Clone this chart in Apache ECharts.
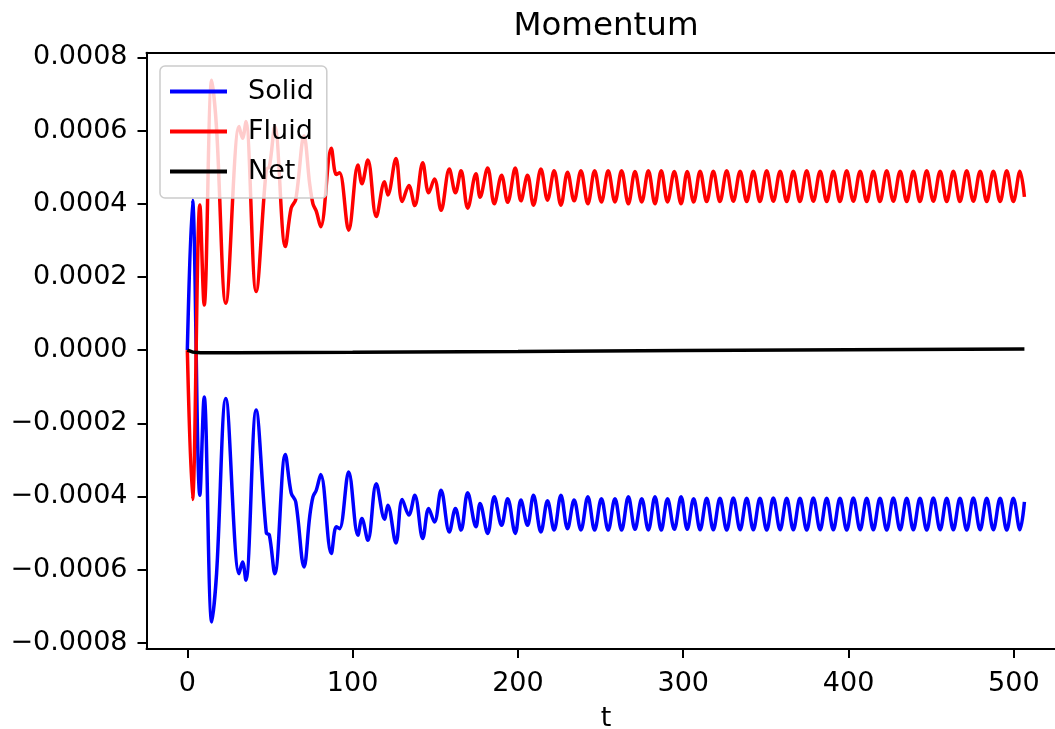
<!DOCTYPE html>
<html>
<head>
<meta charset="utf-8">
<script src="https://cdn.jsdelivr.net/npm/echarts@6/dist/echarts.min.js"></script>
<style>
html,body{margin:0;padding:0;background:#fff;}
#chart{width:1055px;height:729px;}
</style>
</head>
<body>
<div id="chart"></div>
<script>
// Values in units of 1e-4 (momentum)
const UNIT = 1e-4;
const seriesNames = ['Solid', 'Fluid', 'Net'];
const xTicks = [0, 100, 200, 300, 400, 500];
const yTicks = [-0.0008, -0.0006, -0.0004, -0.0002, 0, 0.0002, 0.0004, 0.0006, 0.0008];
const yTickLabels = ['\u22120.0008', '\u22120.0006', '\u22120.0004', '\u22120.0002', '0.0000', '0.0002', '0.0004', '0.0006', '0.0008'];

// time of each read extremum / shape point
const tPts = [
  0, 3.1, 7.6, 10.2, 14.8, 17.7, 23.3, 31.3, 33.4, 35.4,
  41.6, 47.8, 49.6, 52.9, 59.3, 62.8, 65.6, 70.6, 74.0, 76.0,
  78.0, 80.7, 87.1, 90.1, 92.1, 97.6, 103.2, 105.6, 109.2, 114.3,
  119.3, 121.3, 126.2, 130.0, 134.0, 137.6, 142.4, 146.0, 149.5, 153.5,
  158.5, 162.2, 165.6, 169.6, 174.6, 177.1, 181.7, 185.7, 190.1, 193.8,
  198.4, 201.8, 205.8, 209.4, 213.9, 217.9, 221.9, 226.0, 230.0, 234.0,
  238.1, 242.3, 246.4, 250.5, 254.6, 258.7, 262.7, 266.8, 270.8, 274.9,
  278.9, 282.9, 286.7, 290.5, 294.6, 298.7, 302.4, 306.3, 310.2, 314.2,
  318.2, 322.2, 326.3, 330.3, 334.4, 338.4, 342.4, 346.4, 350.5, 354.5,
  358.6, 362.6, 366.6, 370.6, 374.7, 378.7, 382.8, 386.8, 390.8, 394.8,
  398.9, 402.9, 407.0, 411.0, 415.0, 419.0, 423.1, 427.1, 431.2, 435.2,
  439.2, 443.2, 447.3, 451.3, 455.4, 459.4, 463.4, 467.4, 471.5, 475.5,
  479.6, 483.6, 487.6, 491.7, 495.7, 499.7, 503.7, 506.4
];
const solidVals = [
  0, 4.10, -3.97, -1.28, -7.43, -6.10, -1.32, -6.11, -5.79, -6.29,
  -1.64, -5.00, -5.05, -6.11, -2.85, -3.90, -4.15, -5.93, -4.56, -4.01,
  -3.83, -3.40, -5.56, -4.83, -4.88, -3.33, -5.06, -4.60, -5.20, -3.65,
  -4.62, -4.24, -5.27, -4.08, -4.51, -3.97, -5.15, -4.33, -4.70, -3.83,
  -4.97, -4.33, -4.92, -3.90, -4.83, -4.19, -5.01, -4.01, -4.79, -4.06,
  -5.01, -4.10, -4.79, -3.97, -4.97, -4.12, -4.92, -3.97, -4.88, -4.10,
  -4.92, -4.01, -4.92, -4.06, -4.92, -4.06, -4.92, -4.01, -4.90, -4.06,
  -4.92, -4.01, -4.92, -4.06, -4.90, -4.01, -4.90, -4.06, -4.91, -4.05,
  -4.91, -4.05, -4.92, -4.04, -4.91, -4.05, -4.91, -4.05, -4.92, -4.04,
  -4.91, -4.05, -4.91, -4.05, -4.92, -4.04, -4.91, -4.05, -4.91, -4.05,
  -4.92, -4.04, -4.91, -4.05, -4.91, -4.05, -4.92, -4.04, -4.91, -4.05,
  -4.91, -4.05, -4.92, -4.04, -4.91, -4.05, -4.91, -4.05, -4.92, -4.04,
  -4.91, -4.05, -4.91, -4.05, -4.92, -4.05, -4.91, -4.15
];
const fluidVals = [
  0, -4.08, 3.97, 1.23, 7.38, 6.05, 1.28, 6.11, 5.79, 6.25,
  1.60, 4.95, 5.00, 6.11, 2.83, 3.88, 4.12, 5.85, 4.55, 4.00,
  3.80, 3.37, 5.52, 4.80, 4.85, 3.28, 5.06, 4.55, 5.20, 3.65,
  4.60, 4.24, 5.24, 4.06, 4.50, 3.95, 5.12, 4.30, 4.68, 3.82,
  4.95, 4.30, 4.90, 3.88, 4.82, 4.18, 4.98, 4.00, 4.78, 4.04,
  4.98, 4.08, 4.78, 3.96, 4.95, 4.10, 4.90, 3.96, 4.86, 4.08,
  4.90, 4.00, 4.90, 4.05, 4.90, 4.05, 4.90, 4.00, 4.88, 4.05,
  4.90, 4.00, 4.90, 4.05, 4.88, 4.00, 4.88, 4.05, 4.89, 4.06,
  4.89, 4.06, 4.90, 4.07, 4.89, 4.06, 4.89, 4.06, 4.90, 4.07,
  4.89, 4.06, 4.89, 4.06, 4.90, 4.07, 4.89, 4.06, 4.89, 4.06,
  4.90, 4.07, 4.89, 4.06, 4.89, 4.06, 4.90, 4.07, 4.89, 4.06,
  4.89, 4.06, 4.90, 4.07, 4.89, 4.06, 4.89, 4.06, 4.90, 4.07,
  4.89, 4.06, 4.89, 4.06, 4.90, 4.06, 4.89, 4.19
];
const netT = [0, 3, 8, 30, 100, 200, 300, 400, 506.4];
const netVals = [0, -0.05, -0.07, -0.07, -0.06, -0.04, -0.01, 0.01, 0.03];

const colors = ['#0000ff', '#ff0000', '#000000'];
const FONT = 'DejaVu Sans';

function pairs(ts, vs) { return ts.map((t, i) => [t, vs[i] * UNIT]); }

const chart = echarts.init(document.getElementById('chart'), null, {renderer: 'canvas'});
const option = {
  animation: false,
  backgroundColor: '#ffffff',
  textStyle: {fontFamily: FONT},
  grid: {left: 146.5, right: 0, top: 52.7, bottom: 80, containLabel: false},
  xAxis: [{
    type: 'value', min: -24.7, max: 524.9,
    axisLine: {show: true, onZero: false, lineStyle: {color: '#000', width: 2}},
    axisTick: {show: true, length: 9, customValues: xTicks, lineStyle: {color: '#000', width: 2}},
    axisLabel: {show: true, customValues: xTicks, margin: 21, color: '#000', fontSize: 27, fontFamily: FONT},
    splitLine: {show: false}
  }, {
    type: 'value', position: 'top', min: -24.7, max: 524.9,
    axisLine: {show: true, onZero: false, lineStyle: {color: '#000', width: 2}},
    axisTick: {show: false}, axisLabel: {show: false}, splitLine: {show: false}
  }],
  yAxis: {
    type: 'value', min: -0.000817, max: 0.000813,
    axisLine: {show: true, onZero: false, lineStyle: {color: '#000', width: 2}},
    axisTick: {show: true, length: 9, customValues: yTicks, lineStyle: {color: '#000', width: 2}},
    axisLabel: {
      show: true, customValues: yTicks, margin: 19, color: '#000', fontSize: 27, fontFamily: FONT,
      formatter: function (v) {
        let best = 0, bd = Infinity;
        yTicks.forEach((tv, i) => { const d = Math.abs(tv - v); if (d < bd) { bd = d; best = i; } });
        return yTickLabels[best];
      }
    },
    splitLine: {show: false}
  },
  legend: {
    orient: 'vertical', left: 160, top: 66,
    data: seriesNames,
    icon: 'rect', itemWidth: 57, itemHeight: 4, itemGap: 13,
    padding: [12, 13, 13, 10],
    backgroundColor: 'rgba(255,255,255,0.8)',
    borderColor: '#cccccc', borderWidth: 1.5, borderRadius: 5,
    textStyle: {fontSize: 27, fontFamily: FONT, color: '#000', lineHeight: 27, padding: [0, 0, 0, 16]}
  },
  graphic: [
    {type: 'text', x: 606, y: 26.5, style: {text: 'Momentum', font: '32.5px "DejaVu Sans"', fill: '#000', textAlign: 'center', textVerticalAlign: 'middle'}},
    {type: 'text', x: 606, y: 719, style: {text: 't', font: '27px "DejaVu Sans"', fill: '#000', textAlign: 'center', textVerticalAlign: 'middle'}}
  ],
  series: [
    {name: 'Solid', type: 'line', data: pairs(tPts, solidVals), showSymbol: false, symbol: 'none', smooth: 0.36,
     lineStyle: {color: colors[0], width: 3.5}, itemStyle: {color: colors[0]}, z: 2},
    {name: 'Fluid', type: 'line', data: pairs(tPts, fluidVals), showSymbol: false, symbol: 'none', smooth: 0.36,
     lineStyle: {color: colors[1], width: 3.5}, itemStyle: {color: colors[1]}, z: 3},
    {name: 'Net', type: 'line', data: pairs(netT, netVals), showSymbol: false, symbol: 'none', smooth: false,
     lineStyle: {color: colors[2], width: 3.5}, itemStyle: {color: colors[2]}, z: 4}
  ]
};
chart.setOption(option);
</script>
</body>
</html>
